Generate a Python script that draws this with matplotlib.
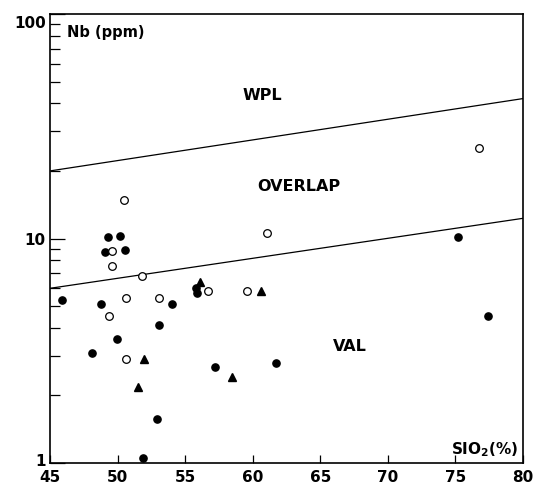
import matplotlib
matplotlib.use("Agg")
import matplotlib.pyplot as plt
import matplotlib.transforms as mtransforms
import numpy as np
from matplotlib.ticker import FixedLocator, NullFormatter

# Data (SiO2 %, Nb ppm)
filled_x = [45.9, 48.8, 49.28, 50.17, 49.04, 50.57, 54.05, 53.08, 49.98, 48.1,
            52.9, 51.9, 55.8, 55.85, 57.2, 61.7, 75.2, 77.4]
filled_y = [5.3, 5.1, 10.2, 10.3, 8.7, 8.9, 5.1, 4.1, 3.58, 3.09,
            1.57, 1.05, 6.0, 5.7, 2.67, 2.8, 10.2, 4.53]

open_x = [50.5, 49.6, 49.58, 51.83, 50.6, 53.06, 49.39, 50.6, 56.7, 59.6, 61.08, 76.78]
open_y = [14.8, 8.76, 7.53, 6.78, 5.45, 5.45, 4.5, 2.91, 5.86, 5.86, 10.6, 25.2]

tri_x = [56.09, 51.97, 51.53, 60.65, 58.5]
tri_y = [6.42, 2.92, 2.18, 5.86, 2.42]

# Boundary lines (endpoints at x = 45 and x = 80)
line_x = [45, 80]
upper_line_y = [20.0, 42.0]
lower_line_y = [6.0, 12.3]

x_ticks = [45, 50, 55, 60, 65, 70, 75, 80]
y_ticks = [1, 10, 100]
y_tick_labels = ["1", "10", "100"]

fig = plt.figure(figsize=(5.35, 4.85), dpi=100)
ax = fig.add_axes([50/535, 21/485, 473/535, 449/485])

ax.set_yscale("log")
ax.set_xlim(45, 80)
ax.set_ylim(1, 100)

ax.plot(line_x, upper_line_y, color="black", lw=0.9)
ax.plot(line_x, lower_line_y, color="black", lw=0.9)

ax.plot(filled_x, filled_y, "o", ms=5.2, color="black", mec="black")
ax.plot(open_x, open_y, "o", ms=5.5, mfc="white", mec="black", mew=0.9)
ax.plot(tri_x, tri_y, "^", ms=6.2, color="black")

# ticks
ax.set_xticks(x_ticks)
ax.set_xticklabels([str(t) for t in x_ticks], fontweight="bold", fontsize=11)
ax.yaxis.set_major_locator(FixedLocator(y_ticks))
ax.set_yticklabels(y_tick_labels, fontweight="bold", fontsize=11)
minors = [v * d for d in (1, 10) for v in range(2, 10)]
ax.yaxis.set_minor_locator(FixedLocator(minors))
ax.yaxis.set_minor_formatter(NullFormatter())

ax.tick_params(axis="x", which="major", direction="in", length=6, width=0.9, pad=4, top=False)
ax.tick_params(axis="y", which="major", direction="in", length=11, width=0.9, pad=3, right=False)
ax.tick_params(axis="y", which="minor", direction="in", length=7, width=0.9, right=False)
ax.tick_params(axis="x", which="minor", bottom=False)

for s in ax.spines.values():
    s.set_linewidth(1.2)

# nudge the "1" label up and the "100" label down, as in the reference
ylabels = ax.get_yticklabels()
ylabels[0].set_transform(ylabels[0].get_transform() +
                         mtransforms.ScaledTranslation(0, 4/100, fig.dpi_scale_trans))
ylabels[2].set_transform(ylabels[2].get_transform() +
                         mtransforms.ScaledTranslation(0, -7/100, fig.dpi_scale_trans))

# labels
ax.text(0.036, 0.977, "Nb (ppm)", transform=ax.transAxes, ha="left", va="top",
        fontsize=10.5, fontweight="bold")
ax.text(60.7, 44.0, "WPL", ha="center", va="center", fontsize=11.5, fontweight="bold")
ax.text(63.4, 17.2, "OVERLAP", ha="center", va="center", fontsize=11.5, fontweight="bold")
ax.text(67.2, 3.33, "VAL", ha="center", va="center", fontsize=11.5, fontweight="bold")
ax.text(0.99, 0.012, r"SIO$_{\mathbf{2}}$(%)", transform=ax.transAxes, ha="right",
        va="bottom", fontsize=11, fontweight="bold")

fig.savefig("out.png", dpi=100)
